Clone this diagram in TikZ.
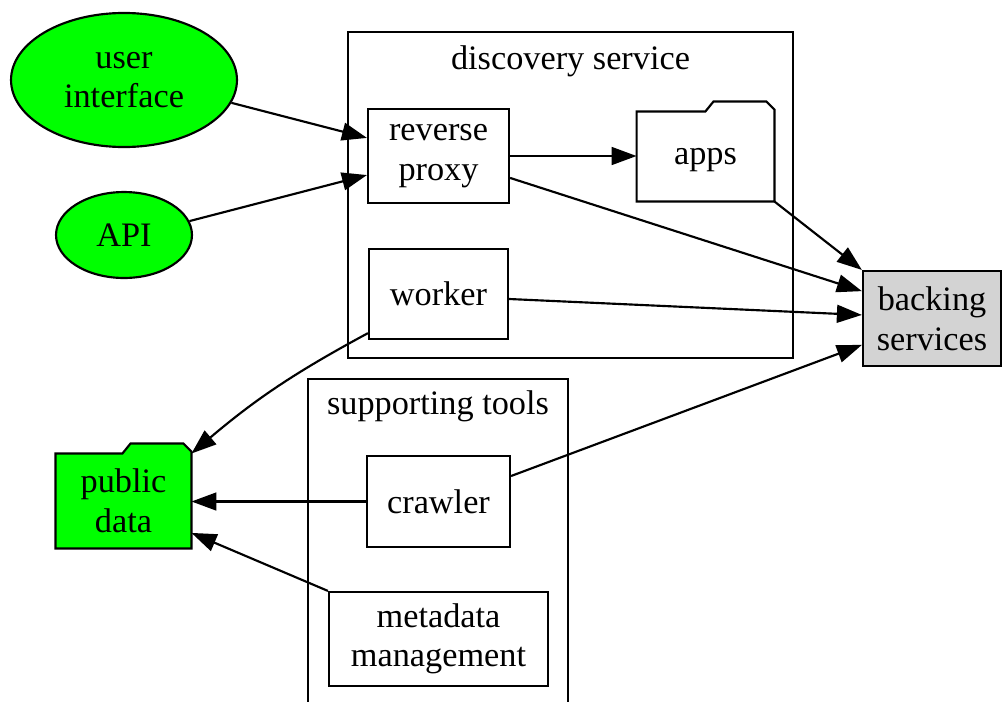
\documentclass[tikz,border=0pt]{standalone}
\usepackage{fontspec}
\setmainfont{Liberation Serif}
\usetikzlibrary{arrows.meta,shapes.geometric,backgrounds}
\definecolor{nodegreen}{HTML}{00FF00}
\definecolor{backinggray}{HTML}{D3D3D3}

% folder outline behind a (borderless) rectangular node: #1 node name, #2 fill
\newcommand\drawfolder[2]{%
  \draw[lw,fill=#2] (#1.south west) -- (#1.north west)
    -- ([xshift=-29pt]#1.north east)
    -- ([xshift=-25.6pt,yshift=4.2pt]#1.north east)
    -- ([xshift=-3.4pt,yshift=4.2pt]#1.north east)
    -- ([yshift=0.8pt]#1.north east)
    -- (#1.south east) -- cycle;}

\begin{document}
\begin{tikzpicture}[x=0.42pt,y=-0.42pt,
  every node/.style={font=\fontsize{14.4pt}{16.6pt}\selectfont, align=center, inner sep=0pt},
  lw/.style={line width=0.9pt},
  box/.style={draw, lw, rectangle},
  oval/.style={draw, lw, ellipse, fill=nodegreen},
  folderbox/.style={rectangle},
  cluster/.style={draw, lw, rectangle},
  edge/.style={lw, -{Triangle[length=10.5pt,width=7.5pt]}},
]
\path[use as bounding box] (0,0) rectangle (1003,701);
\clip (0,0) rectangle (1003,701);

% clusters
\node[cluster, minimum width=186.9pt, minimum height=136.9pt] (ds) at (570.5,195) {};
\node[anchor=base] (dslabel) at ([yshift=-16pt]ds.north) {discovery service};
\node[cluster, minimum width=109.2pt, minimum height=143.2pt] (st) at (438,549.5) {};
\node[anchor=base] (stlabel) at ([yshift=-15.5pt]st.north) {supporting tools};

% nodes
\node[oval, minimum width=94.9pt, minimum height=56.3pt] (ui) at (124,80) {user\\interface};
\node[oval, minimum width=57.1pt, minimum height=36.1pt] (api) at (124,235) {API};
\node[box, minimum width=59.2pt, minimum height=39.5pt] (rp) at (438.5,156) {reverse\\proxy};
\node[box, minimum width=58.4pt, minimum height=37.8pt] (wk) at (438.5,294) {worker};
\node[box, minimum width=60pt, minimum height=38.2pt] (cr) at (438.5,501.5) {crawler};
\node[box, minimum width=92pt, minimum height=39.5pt] (mm) at (438.5,639) {metadata\\management};
\node[box, fill=backinggray, minimum width=58pt, minimum height=39.9pt] (bs) at (932,318.5) {backing\\services};
\node[folderbox, text depth=0pt, minimum width=57.5pt, minimum height=37.4pt] (apps) at (705.5,156.5) {apps};
\node[folderbox, minimum width=56.7pt, minimum height=39.5pt] (pd) at (123.5,501) {public\\data};

\begin{scope}[on background layer]
  \fill[white] (0,0) rectangle (1003,701);
  \drawfolder{apps}{white}
  \drawfolder{pd}{nodegreen}
\end{scope}

% connectors
\draw[edge] (ui.-12.5) -- ([yshift=7.6pt]rp.west);
\draw[edge] (api.12.3) -- ([yshift=-8pt]rp.west);
\draw[edge] (rp.east) -- (rp.east -| apps.west);
\draw[edge] ([yshift=-9.2pt]rp.east) -- ([yshift=11.5pt]bs.west);
\draw[edge] (apps.south east) -- (bs.north west);
\draw[edge] ([yshift=-2.1pt]wk.east) -- ([yshift=1.5pt]bs.west);
\draw[edge] ([yshift=2.9pt]wk.south west) to[bend right=6] (pd.north east);
\draw[edge] (cr.west) -- (cr.west -| pd.east);
\draw[edge] ([yshift=10.7pt]cr.east) -- ([yshift=-11.1pt]bs.west);
\draw[edge] (mm.north west) -- ([yshift=-13.4pt]pd.east);
\end{tikzpicture}
\end{document}
